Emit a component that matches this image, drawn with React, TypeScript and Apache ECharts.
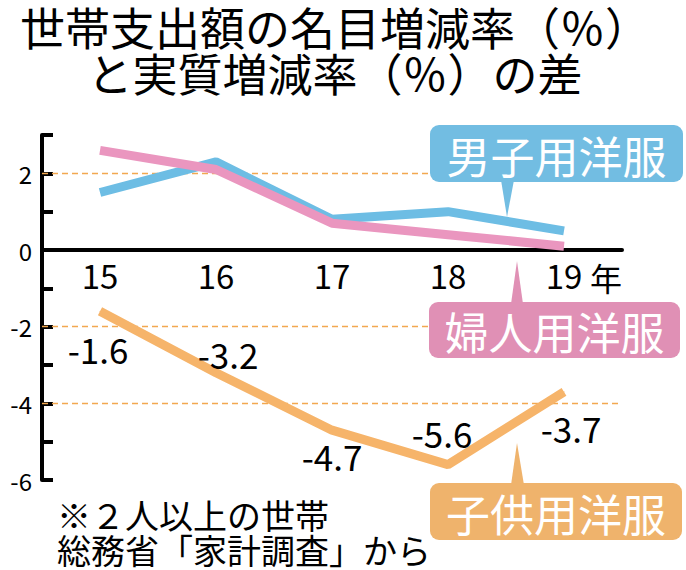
import React, { useEffect, useRef } from 'react';
import * as echarts from 'echarts';

const categories = ['15', '16', '17', '18', '19'];
const menValues = [1.5, 2.3, 0.8, 1.0, 0.5];
const womenValues = [2.6, 2.1, 0.7, 0.4, 0.1];
const childValues = [-1.6, -3.2, -4.7, -5.6, -3.7];
const gridValues = [2, -2, -4];
const titleLines = ['世帯支出額の名目増減率（％）', 'と実質増減率（％）の差'];
const noteLines = ['※２人以上の世帯', '総務省「家計調査」から'];
const seriesNames = ['男子用洋服', '婦人用洋服', '子供用洋服'];
const yearUnit = '年';

const Y_MIN = -6;
const Y_MAX = 3;
const GRID = { left: 42, right: 64, top: 135, bottom: 90 };
const CHART_H = 570;

const labelOffsets: [number, number][] = [[-2, 37], [12, -19], [0, 25], [-6, -32], [7, 36]];

const FONT = '"Noto Sans CJK JP", "Noto Sans", sans-serif';
const BLUE_LINE = '#6dbde4';
const PINK_LINE = '#ea96bf';
const ORANGE_LINE = '#f6b46a';
const BLUE_BOX = '#72bde2';
const PINK_BOX = '#e090b5';
const ORANGE_BOX = '#efb36c';

function txt(text: string, x: number, y: number, size: number, fill: string, align = 'center', lineHeight?: number) {
  return {
    type: 'text',
    z: 100,
    style: {
      text, x, y, fill,
      fontSize: size, fontFamily: FONT,
      lineHeight: lineHeight ?? size,
      textAlign: align, align,
      textVerticalAlign: 'middle', verticalAlign: 'middle',
    },
  };
}

function callout(label: string, color: string, bx: number, by: number, bw: number, bh: number, tri: number[][]) {
  return [
    { type: 'polygon', z: 99, shape: { points: tri }, style: { fill: color } },
    { type: 'rect', z: 99, shape: { x: bx, y: by, width: bw, height: bh, r: 9 }, style: { fill: color } },
    txt(label, bx + bw / 2, by + bh / 2 + 1, 44, '#fff'),
  ];
}

export default function App() {
  const ref = useRef<HTMLDivElement>(null);
  useEffect(() => {
    const chart = echarts.init(ref.current!, null, { renderer: 'svg' });
    const gridH = CHART_H - GRID.top - GRID.bottom;
    // distance of the zero line above the grid's bottom edge
    const zeroOffset = (gridH * (0 - Y_MIN)) / (Y_MAX - Y_MIN);
    chart.setOption({
      animation: false,
      textStyle: { fontFamily: FONT },
      grid: GRID,
      xAxis: {
        type: 'category',
        data: categories,
        boundaryGap: true,
        position: 'bottom',
        offset: -zeroOffset,
        axisLine: { onZero: false, lineStyle: { color: '#000', width: 4 } },
        axisTick: { alignWithLabel: true, length: 8, lineStyle: { color: '#000', width: 4 } },
        axisLabel: { fontSize: 33, color: '#000', margin: 8, fontFamily: FONT },
        splitLine: { show: false },
      },
      yAxis: {
        type: 'value',
        min: Y_MIN,
        max: Y_MAX,
        interval: 1,
        axisLine: { show: true, onZero: false, lineStyle: { color: '#000', width: 4 } },
        axisTick: { show: true, inside: true, length: 11, lineStyle: { color: '#000', width: 4 } },
        axisLabel: {
          fontSize: 24, color: '#000', margin: 10, fontFamily: FONT,
          formatter: (v: number) => (Math.round(v) % 2 === 0 ? String(v) : ''),
        },
        splitLine: { show: false },
      },
      series: [
        {
          name: seriesNames[0], type: 'line', data: menValues, symbol: 'none', z: 10,
          lineStyle: { color: BLUE_LINE, width: 9 }, emphasis: { disabled: true },
        },
        {
          name: seriesNames[1], type: 'line', data: womenValues, symbol: 'none', z: 11,
          lineStyle: { color: PINK_LINE, width: 9 }, emphasis: { disabled: true },
        },
        {
          name: seriesNames[2], type: 'line', z: 9,
          data: childValues.map((v, i) => ({ value: v, label: { offset: labelOffsets[i] } })),
          symbol: 'circle', symbolSize: 1,
          itemStyle: { color: ORANGE_LINE },
          lineStyle: { color: ORANGE_LINE, width: 9 },
          emphasis: { disabled: true },
          label: {
            show: true, position: 'inside', fontSize: 35, color: '#000', fontFamily: FONT,
            formatter: (p: any) => Number(p.value).toFixed(1),
          },
          markLine: {
            silent: true, symbol: 'none', z: 1,
            label: { show: false },
            lineStyle: { type: [6, 4], color: '#f2a850', width: 1.3, opacity: 1 },
            emphasis: { disabled: true },
            data: gridValues.map((v) => ({ yAxis: v })),
          },
        },
      ],
      graphic: [
        txt(titleLines.join('\n'), 335, 49, 45, '#000', 'center', 46),
        txt(noteLines.join('\n'), 57, 532, 34, '#000', 'left', 35),
        txt(yearUnit, 606, 277, 32, '#000'),
        ...callout(seriesNames[0], BLUE_BOX, 430, 125, 253, 57, [[501, 180], [514, 180], [507, 217]]),
        ...callout(seriesNames[1], PINK_BOX, 429, 302, 251, 56, [[511, 304], [523, 304], [517, 261]]),
        ...callout(seriesNames[2], ORANGE_BOX, 430, 483, 252, 57, [[511, 485], [524, 485], [517, 443]]),
      ],
    });
    return () => chart.dispose();
  }, []);
  return (
    <div
      ref={ref}
      style={{ position: 'fixed', left: 0, top: 0, width: 686, height: 570, background: '#fff' }}
    />
  );
}
